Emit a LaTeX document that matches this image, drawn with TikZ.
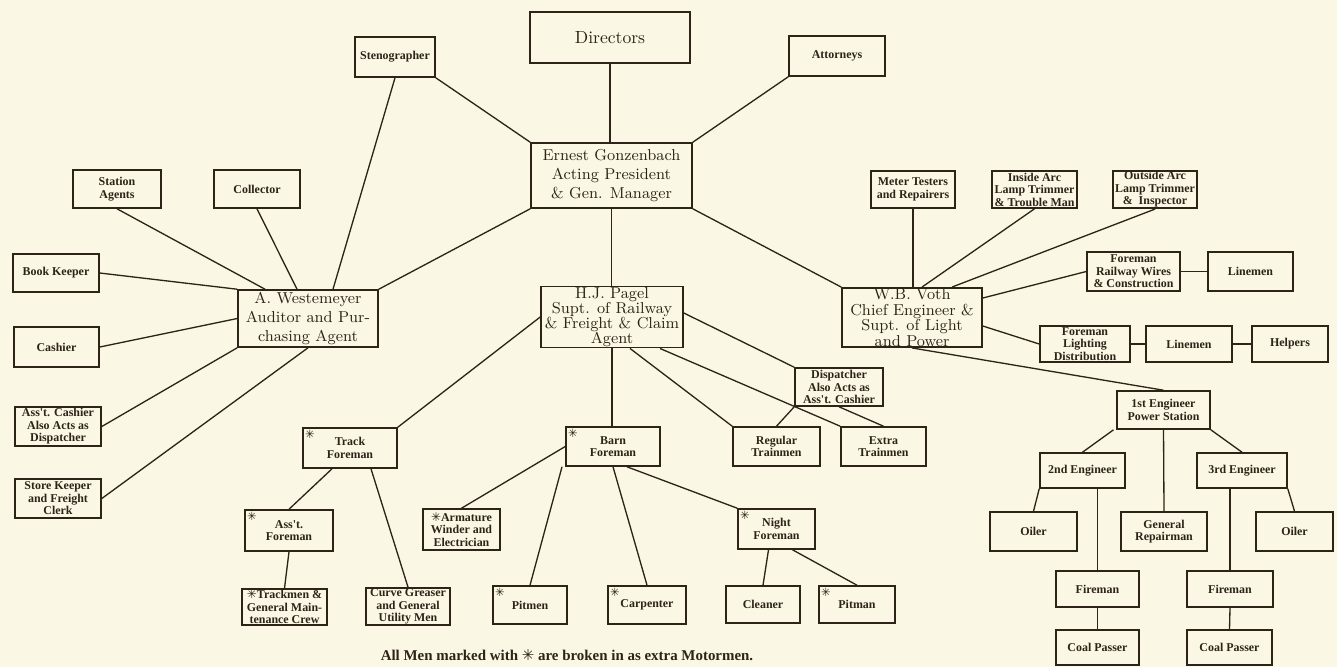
\documentclass[tikz,border=0pt]{standalone}
\usepackage{fontspec}
\newfontfamily\symfont{DejaVu Sans}
\newfontfamily\boxfont{Liberation Serif}
\newcommand\mk{{\symfont ✳}}
\definecolor{paper}{RGB}{250,248,228}
\definecolor{ink}{RGB}{45,35,25}
\tikzset{
	box/.style={draw=ink, line width=0.9pt, fill=paper, align=center, inner sep=0.5pt, text=ink, font=\fontsize{6.8}{7.1}\selectfont\boxfont\bfseries},
	chief/.style={box, font=\fontsize{9}{11}\selectfont\addfontfeature{LetterSpace=6}},
	sz/.style 2 args={minimum width=#1*0.02cm, minimum height=#2*0.02cm},
	marked/.style={label={[anchor=north west, inner sep=1.5pt, text=ink, font=\fontsize{6.5}{6.5}\selectfont]north west:\mk}},
	link/.style={draw=ink, line width=0.75pt}
}

\begin{document}
\begin{tikzpicture}[x=0.02cm, y=-0.02cm]
	\useasboundingbox (0,0) rectangle (1337,667);
	\fill[paper] (0,0) rectangle (1337,667);

	\node[box, sz={160}{51}, font=\fontsize{10}{12}\selectfont] (dir) at (610,37.5) {Directors};
	\node[box, sz={80}{40}] (steno) at (395,57) {Stenographer};
	\node[box, sz={96}{40}] (att) at (837,56) {Attorneys};
	\node[chief, sz={161}{65}] (ern) at (611.5,175.5) {Ernest Gonzenbach\\Acting President\\\& Gen. Manager};

	\node[box, sz={88}{38}] (sta) at (117,189) {Station\\Agents};
	\node[box, sz={86}{38}] (col) at (257,189) {Collector};
	\node[box, sz={86}{38}] (book) at (56,273) {Book Keeper};
	\node[chief, sz={140}{57}, font=\fontsize{9}{10.6}\selectfont\addfontfeature{LetterSpace=6}] (west) at (308,318.5) {A. Westemeyer\\Auditor and Pur-\\chasing Agent};
	\node[box, sz={85}{40}] (cash) at (56.5,347) {Cashier};
	\node[box, sz={86}{39}] (asca) at (58,426.5) {Ass't. Cashier\\Also Acts as\\Dispatcher};
	\node[box, sz={86}{39}] (store) at (58,498.5) {Store Keeper\\and Freight\\Clerk};

	\node[chief, sz={142}{58}, font=\fontsize{9}{8.6}\selectfont\addfontfeature{LetterSpace=5}] (pagel) at (612,317) {H.J. Pagel\\Supt. of Railway\\\& Freight \& Claim\\Agent};
	\node[box, sz={94}{40}, marked] (track) at (350,448) {Track\\Foreman};
	\node[box, sz={88}{41}, marked] (asfo) at (289,530.5) {Ass't.\\Foreman};
	\node[box, sz={85}{36}] (trackmen) at (284.5,607) {\mk Trackmen \&\\General Main-\\tenance Crew};
	\node[box, sz={84}{37}] (curve) at (408,606.5) {Curve Greaser\\and General\\Utility Men};
	\node[box, sz={88}{38}] (disp) at (839,387) {Dispatcher\\Also Acts as\\Ass't. Cashier};
	\node[box, sz={87}{39}] (reg) at (776.5,446.5) {Regular\\Trainmen};
	\node[box, sz={85}{39}] (extra) at (883.5,446.5) {Extra\\Trainmen};
	\node[box, sz={94}{39}, marked] (barn) at (613,446.5) {Barn\\Foreman};
	\node[box, sz={77}{41}] (arm) at (461.5,529.5) {\mk Armature\\Winder and\\Electrician};
	\node[box, sz={74}{38}, marked] (pitmen) at (530,605) {Pitmen};
	\node[box, sz={78}{38}, marked] (carp) at (647,605) {Carpenter};
	\node[box, sz={77}{40}, marked] (night) at (776.5,529) {Night\\Foreman};
	\node[box, sz={74}{37}] (clean) at (763,604.5) {Cleaner};
	\node[box, sz={76}{37}, marked] (pitman) at (857,604.5) {Pitman};

	\node[chief, sz={140}{59}, font=\fontsize{9}{8.8}\selectfont\addfontfeature{LetterSpace=5}] (voth) at (912,317.5) {W.B. Voth\\Chief Engineer \&\\Supt. of Light\\and Power};
	\node[box, sz={84}{37}] (meter) at (913,189.5) {Meter Testers\\and Repairers};
	\node[box, sz={85}{37}] (inside) at (1034.5,189.5) {Inside Arc\\Lamp Trimmer\\\& Trouble Man};
	\node[box, sz={84}{37}] (outside) at (1155,189.5) {Outside Arc\\Lamp Trimmer\\\&\ \ Inspector};
	\node[box, sz={93}{39}] (frw) at (1133.5,271.5) {Foreman\\Railway Wires\\\& Construction};
	\node[box, sz={85}{39}] (line1) at (1250.5,271.5) {Linemen};
	\node[box, sz={90}{36}] (flight) at (1085,344) {Foreman\\Lighting\\Distribution};
	\node[box, sz={86}{36}] (line2) at (1189,344) {Linemen};
	\node[box, sz={76}{36}] (help) at (1290,344) {Helpers};
	\node[box, sz={93}{38}] (eng1) at (1163.5,410) {1st Engineer\\Power Station};
	\node[box, sz={85}{35}] (eng2) at (1082.5,470.5) {2nd Engineer};
	\node[box, sz={90}{35}] (eng3) at (1242,470.5) {3rd Engineer};
	\node[box, sz={87}{39}] (oil1) at (1033.5,531.5) {Oiler};
	\node[box, sz={86}{39}] (rep) at (1164,531.5) {General\\Repairman};
	\node[box, sz={77}{39}] (oil2) at (1294.5,531.5) {Oiler};
	\node[box, sz={83}{36}] (fire1) at (1097.5,589) {Fireman};
	\node[box, sz={86}{36}] (fire2) at (1230,589) {Fireman};
	\node[box, sz={83}{35}] (coal1) at (1097.5,647.5) {Coal Passer};
	\node[box, sz={85}{35}] (coal2) at (1229.5,647.5) {Coal Passer};

	\node[text=ink, font=\fontsize{8.5}{10}\selectfont\boxfont\bfseries] (note) at (567,655) {All Men marked with \mk\ are broken in as extra Motormen.};

	\draw[link] (dir.south) -- (dir.south |- ern.north);
	\draw[link] (steno.south east) -- (ern.north west);
	\draw[link] (att.south west) -- (ern.north east);
	\draw[link] (ern.south west) -- (west.north east);
	\draw[link] (ern.south) -- (ern.south |- pagel.north);
	\draw[link] (ern.south east) -- (voth.north west);

	\draw[link] (steno.south) -- ([xshift=0.5cm]west.north);
	\draw[link] (sta.south) -- ([xshift=-0.86cm]west.north);
	\draw[link] (col.south) -- ([xshift=-0.22cm]west.north);
	\draw[link] (book.east) -- (west.north west);
	\draw[link] (cash.east) -- (west.west);
	\draw[link] (asca.east) -- (west.south west);
	\draw[link] (store.east) -- (west.south);

	\draw[link] (pagel.west) -- (track.north east);
	\draw[link] (pagel.south) -- (pagel.south |- barn.north);
	\draw[link] ([xshift=0.36cm]pagel.south) -- (reg.north west);
	\draw[link] ([xshift=0.96cm]pagel.south) -- (extra.north west);
	\draw[link] ([yshift=0.08cm]pagel.east) -- (disp.north west);
	\draw[link] (disp.south west) -- (reg.north);
	\draw[link] (disp.south) -- (extra.north);
	\draw[link] ([xshift=-0.36cm]track.south) -- (asfo.north);
	\draw[link] ([xshift=0.42cm]track.south) -- (curve.north);
	\draw[link] (asfo.south) -- (trackmen.north);
	\draw[link] (barn.west) -- (arm.north);
	\draw[link] ([xshift=-1.02cm]barn.south) -- (pitmen.north);
	\draw[link] (barn.south) -- (carp.north);
	\draw[link] ([xshift=0.28cm]barn.south) -- (night.north west);
	\draw[link] ([xshift=-0.16cm]night.south) -- (clean.north);
	\draw[link] ([xshift=0.32cm]night.south) -- (pitman.north);

	\draw[link] (meter.south) -- (meter.south |- voth.north);
	\draw[link] ([xshift=0.2cm]voth.north) -- (inside.south);
	\draw[link] ([xshift=0.8cm]voth.north) -- (outside.south);
	\draw[link] ([yshift=0.39cm]voth.east) -- (frw.west);
	\draw[link] ([yshift=-0.17cm]voth.east) -- (flight.west);
	\draw[link] (frw.east) -- (line1.west);
	\draw[link] (flight.east) -- (line2.west);
	\draw[link] (line2.east) -- (help.west);
	\draw[link] (voth.south) -- (eng1.north);
	\draw[link] ([xshift=-1cm]eng1.south) -- (eng2.north);
	\draw[link] (eng1.south) -- (rep.north);
	\draw[link] (eng1.south east) -- (eng3.north);
	\draw[link] (eng2.south west) -- (oil1.north);
	\draw[link] (fire1.north) -- (fire1.north |- eng2.south);
	\draw[link] (eng3.south east) -- (oil2.north);
	\draw[link] (fire2.north) -- (fire2.north |- eng3.south);
	\draw[link] (fire1.south) -- (coal1.north);
	\draw[link] (fire2.south) -- (coal2.north);
\end{tikzpicture}
\end{document}
